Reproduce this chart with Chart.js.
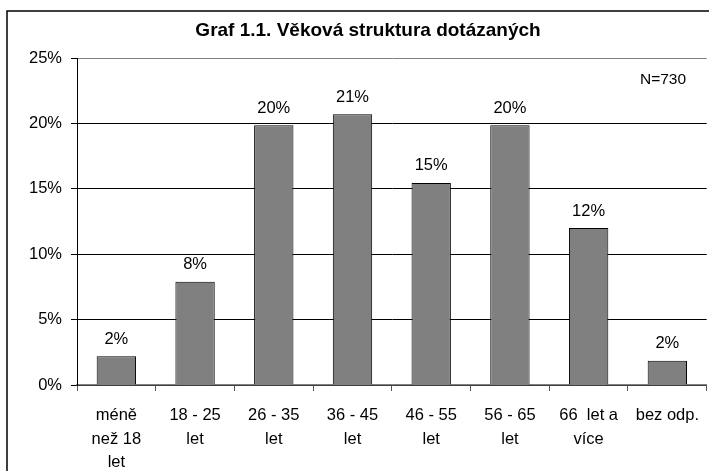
<!DOCTYPE html>
<html>
<head>
<meta charset="utf-8">
<script src="https://cdn.jsdelivr.net/npm/chart.js@4"></script>
<style>
  html, body { margin: 0; padding: 0; background: #fff; overflow: hidden; }
  #wrap { width: 709px; height: 471px; overflow: hidden; }
</style>
</head>
<body>
<div id="wrap"><canvas id="myChart" width="712" height="471"></canvas></div>
<script>
const kategorie = [
  ["méně", "než 18", "let"],
  ["18 - 25", "let"],
  ["26 - 35", "let"],
  ["36 - 45", "let"],
  ["46 - 55", "let"],
  ["56 - 65", "let"],
  ["66  let a", "více"],
  "bez odp.",
];
const podily = [2.2, 7.9, 19.85, 20.7, 15.45, 19.85, 12.0, 1.85];
const osaY = [0, 5, 10, 15, 20, 25];

const FONT = "'Liberation Sans', Arial, sans-serif";

// ramecek a nadpis
const ramecek = {
  id: "ramecek",
  beforeDraw(chart) {
    const c = chart.ctx;
    c.save();
    c.strokeStyle = "#000";
    c.lineWidth = 1.5;
    c.beginPath();
    c.moveTo(7, 471);
    c.lineTo(7, 11);
    c.lineTo(712, 11);
    c.stroke();
    c.restore();
  },
  afterDraw(chart) {
    const c = chart.ctx;
    c.save();
    c.fillStyle = "#000";
    c.font = "bold 19px " + FONT;
    c.textAlign = "center";
    c.textBaseline = "middle";
    c.fillText("Graf 1.1. Věková struktura dotázaných", 368, 31);
    c.font = "15.5px " + FONT;
    c.fillText("N=730", 663, 80);
    c.restore();
  },
};

// popisky nad sloupci
const popisky = {
  id: "popisky",
  afterDatasetsDraw(chart) {
    const c = chart.ctx;
    const meta = chart.getDatasetMeta(0);
    c.save();
    c.fillStyle = "#000";
    c.font = "16.5px " + FONT;
    c.textAlign = "center";
    c.textBaseline = "middle";
    meta.data.forEach((bar, i) => {
      c.fillText(Math.round(podily[i]) + "%", bar.x, bar.y - 17);
    });
    c.restore();
  },
};

const ctx = document.getElementById("myChart").getContext("2d");
new Chart(ctx, {
  type: "bar",
  data: {
    labels: kategorie,
    datasets: [
      {
        data: podily,
        backgroundColor: "#808080",
        borderColor: "#000",
        borderWidth: 1,
        categoryPercentage: 1,
        barPercentage: 0.5,
      },
    ],
  },
  options: {
    responsive: false,
    animation: false,
    layout: { padding: { top: 58, left: 0, right: 0, bottom: 0 } },
    plugins: {
      legend: { display: false },
      title: { display: false },
      tooltip: { enabled: false },
    },
    scales: {
      x: {
        afterFit(s) { s.height = 86; },
        grid: {
          offset: true,
          drawOnChartArea: false,
          drawTicks: true,
          tickLength: 6,
          tickColor: "#555",
        },
        border: { color: "#808080", width: 1.5 },
        ticks: {
          color: "#000",
          font: { family: FONT, size: 16.5, lineHeight: 1.42 },
          padding: 13,
          maxRotation: 0,
          autoSkip: false,
        },
      },
      y: {
        min: 0,
        max: 25,
        afterFit(s) { s.width = 77; },
        afterBuildTicks(s) { s.ticks = osaY.map((v) => ({ value: v })); },
        grid: {
          color: (c) => (c.tick && c.tick.value === 25 ? "#808080" : "#000"),
          tickColor: "#000",
          tickLength: 6,
        },
        border: { color: "#000", width: 1 },
        ticks: {
          color: "#000",
          font: { family: FONT, size: 16.5 },
          padding: 9,
          callback: (v) => v + "%",
        },
      },
    },
  },
  plugins: [ramecek, popisky],
});
</script>
</body>
</html>
